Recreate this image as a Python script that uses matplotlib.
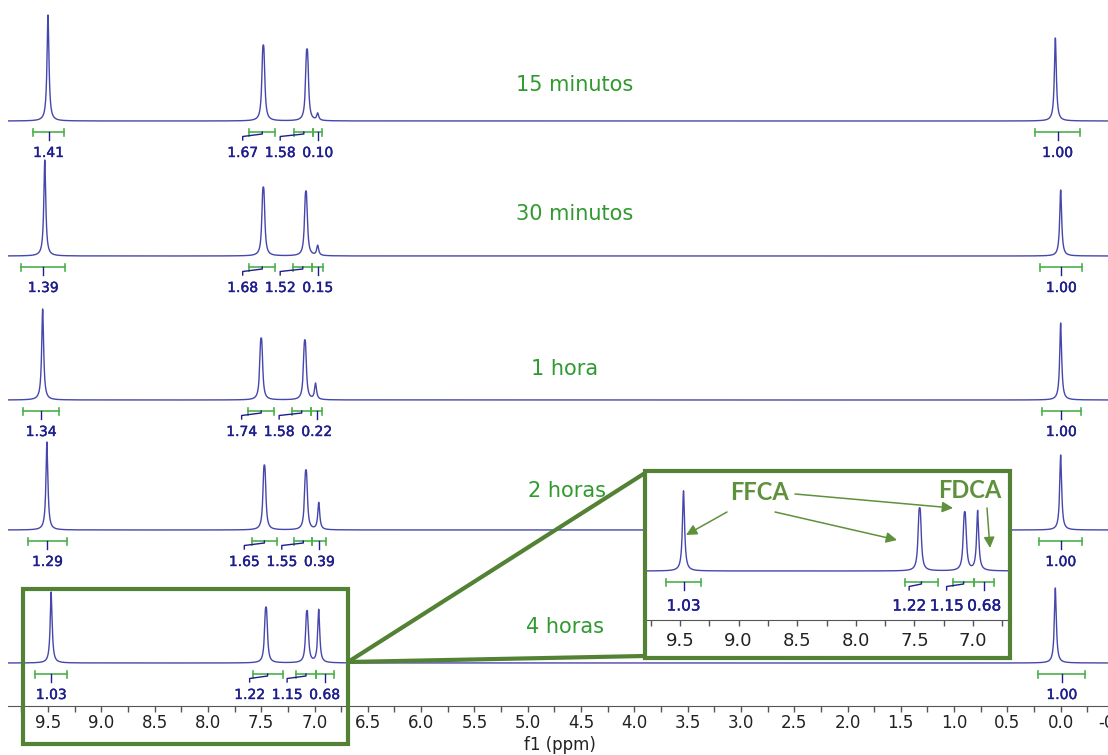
import numpy as np
import matplotlib
matplotlib.use("Agg")
import matplotlib.pyplot as plt
import matplotlib.patheffects as pe
from matplotlib.patches import Rectangle
from matplotlib.ticker import MultipleLocator, FormatStrFormatter

plt.rcParams["axes.unicode_minus"] = False

W, H = 1108, 755

TRACE_LABELS = ["15 minutos", "30 minutos", "1 hora", "2 horas", "4 horas"]

# shifts (ppm): CHO (FFCA), furan H x2 (FFCA), FDCA, TMS
PEAK_PPM = [
    [9.50, 7.48, 7.07, 6.97, 0.05],
    [9.53, 7.48, 7.08, 6.97, 0.00],
    [9.55, 7.50, 7.09, 6.99, 0.00],
    [9.51, 7.47, 7.08, 6.96, 0.00],
    [9.47, 7.455, 7.07, 6.96, 0.05],
]
PEAK_HEIGHT = [
    [106, 76, 72, 7, 83],
    [96, 69, 65, 10, 66],
    [91, 62, 60, 16, 77],
    [88, 65, 60, 27, 75],
    [71, 56, 52, 53, 75],
]
PEAK_DOUBLET = [False, True, True, False, False]

INT_RANGES = [
    [(9.64, 9.35), (7.61, 7.37), (7.19, 7.01), (7.01, 6.93), (0.24, -0.18)],
    [(9.75, 9.34), (7.61, 7.37), (7.20, 7.02), (7.02, 6.92), (0.19, -0.20)],
    [(9.73, 9.40), (7.62, 7.38), (7.21, 7.03), (7.03, 6.93), (0.18, -0.19)],
    [(9.69, 9.32), (7.59, 7.35), (7.19, 7.02), (7.02, 6.89), (0.20, -0.20)],
    [(9.62, 9.32), (7.58, 7.30), (7.17, 6.99), (6.99, 6.82), (0.21, -0.23)],
]
INT_VALUES = [
    ["1.41", "1.67", "1.58", "0.10", "1.00"],
    ["1.39", "1.68", "1.52", "0.15", "1.00"],
    ["1.34", "1.74", "1.58", "0.22", "1.00"],
    ["1.29", "1.65", "1.55", "0.39", "1.00"],
    ["1.03", "1.22", "1.15", "0.68", "1.00"],
]

# layout (pixels from top of the image)
BASE_PX = [121, 256, 400, 530, 663]
LABEL_PX = [(575, 85), (575, 214), (565, 369), (567, 491), (565, 627)]
AX_PX = 706
PPM_PX = 106.6          # main axis px per ppm, 9.5 ppm at x=48
IN_PPM_PX = 117.2       # inset px per ppm, 9.5 ppm at x=680
INSET_GAIN = 1.13

LINE_C = "#4646ac"
INT_C = "#4db04d"
LAB_C = "#1e1e8c"
TXT_G = "#2f9a2f"
BOX_G = "#548235"
ANN_G = "#5f913c"

J = 0.012
HW = 0.011
x = np.linspace(-0.8, 10.2, 44000)


def spectrum(ppms, heights):
    y = np.zeros_like(x)
    for p, h, dbl in zip(ppms, heights, PEAK_DOUBLET):
        comps = [p - J / 2, p + J / 2] if dbl else [p]
        prof = sum(1.0 / (1.0 + ((x - c) / HW) ** 2) for c in comps)
        y += h * prof / prof.max()
    return y


def draw_integrals(ax, y0, ranges, values, px_per_ppm, lab_off, fs):
    sp = 37.5 / px_per_ppm
    cen = [(a + b) / 2 for a, b in ranges]
    order = sorted(range(len(cen)), key=lambda k: cen[k])   # right to left
    lab = {}
    prev = None
    for k in order:
        lab[k] = cen[k] if prev is None else max(cen[k], prev + sp)
        prev = lab[k]
    cap = 3.5
    thick = [pe.withStroke(linewidth=0.3, foreground=LAB_C)]
    for (a, b), c, k, v in zip(ranges, cen, range(len(cen)), values):
        ax.plot([a, b], [y0 - 11, y0 - 11], color=INT_C, lw=1.2, clip_on=False)
        for e in (a, b):
            ax.plot([e, e], [y0 - 11 - cap, y0 - 11 + cap], color=INT_C, lw=1.2, clip_on=False)
        L = lab[k]
        ax.plot([c, c, L, L], [y0 - 11, y0 - 13, y0 - 15.5, y0 - 19],
                color=LAB_C, lw=1.0, clip_on=False)
        ax.text(L, y0 - lab_off, v, ha="center", va="center", fontsize=fs,
                color=LAB_C, clip_on=False, path_effects=thick)


fig = plt.figure(figsize=(W / 100, H / 100), dpi=100)

# ---- main stacked spectra
right_px = 1125
ax = fig.add_axes([8 / W, 1 - AX_PX / H, (right_px - 8) / W, AX_PX / H], zorder=1)
ax.set_xlim(9.5 + (48 - 8) / PPM_PX, 9.5 - (right_px - 48) / PPM_PX)
ax.set_ylim(0, AX_PX)
ax.patch.set_alpha(0)
for s in ("left", "right", "top"):
    ax.spines[s].set_visible(False)
ax.spines["bottom"].set_color("#555555")
ax.set_yticks([])
ax.xaxis.set_major_locator(MultipleLocator(0.5))
ax.xaxis.set_minor_locator(MultipleLocator(0.25))
ax.xaxis.set_major_formatter(FormatStrFormatter("%.1f"))
ax.tick_params(axis="x", which="both", direction="out", length=4, width=1,
               color="#555555", labelsize=12, labelcolor="#222222", pad=2)
ax.set_xlabel("f1 (ppm)", fontsize=12, color="#222222")
ax.xaxis.set_label_coords((560 - 8) / (right_px - 8), -39 / AX_PX)
ax.xaxis.label.set_va("center")

for i in range(len(TRACE_LABELS)):
    y0 = AX_PX - BASE_PX[i]
    ax.plot(x, y0 + spectrum(PEAK_PPM[i], PEAK_HEIGHT[i]), color=LINE_C, lw=1.0)
    draw_integrals(ax, y0, INT_RANGES[i], INT_VALUES[i], PPM_PX, 32, 10)
    tx, ty = LABEL_PX[i]
    ax.text(9.5 - (tx - 48) / PPM_PX, AX_PX - ty, TRACE_LABELS[i], ha="center",
            va="center", fontsize=15, color=TXT_G)

# ---- zoomed inset of the 4 h spectrum
ix0, ix1, iy0, iy1 = 643, 1011, 471, 657
axi = fig.add_axes([ix0 / W, 1 - iy1 / H, (ix1 - ix0) / W, (iy1 - iy0) / H], zorder=3)
axi.set_facecolor("white")
axi.set_xlim(9.5 + (680 - ix0) / IN_PPM_PX, 7.0 - (ix1 - 973) / IN_PPM_PX)
axi.set_ylim(0, iy1 - iy0)
for s in ("left", "right", "top"):
    axi.spines[s].set_visible(False)
axi.spines["bottom"].set_position(("data", iy1 - 620))
axi.spines["bottom"].set_color("#555555")
axi.set_yticks([])
axi.xaxis.set_major_locator(MultipleLocator(0.5))
axi.xaxis.set_minor_locator(MultipleLocator(0.25))
axi.xaxis.set_major_formatter(FormatStrFormatter("%.1f"))
axi.tick_params(axis="x", which="both", direction="out", length=4, width=1,
                color="#555555", labelsize=13, labelcolor="#222222", pad=5)

yb = iy1 - 571
axi.plot(x, yb + INSET_GAIN * spectrum(PEAK_PPM[4], PEAK_HEIGHT[4]), color=LINE_C, lw=1.0)
draw_integrals(axi, yb, INT_RANGES[4][:4], INT_VALUES[4][:4], IN_PPM_PX, 35, 11)


def ip(px, py):
    return 9.5 - (px - 680) / IN_PPM_PX, iy1 - py


lab_font = dict(fontsize=17, fontweight="bold", color=ANN_G, family=["Lato", "DejaVu Sans"],
                ha="center", va="center")
axi.text(*ip(760, 493), "FFCA", **lab_font)
axi.text(*ip(970, 490), "FDCA", **lab_font)
arrows = [((727, 512), (686, 535)), ((775, 512), (897, 540)),
          ((795, 494), (953, 508)), ((987, 508), (990, 548))]
for (sx, sy), (ex, ey) in arrows:
    axi.annotate("", xy=ip(ex, ey), xytext=ip(sx, sy),
                 arrowprops=dict(arrowstyle="-|>", color=ANN_G, lw=1.1,
                                 mutation_scale=16, shrinkA=0, shrinkB=0))

# ---- overlay: highlight box, inset frame, connector lines
ov = fig.add_axes([0, 0, 1, 1], zorder=5)
ov.set_xlim(0, W)
ov.set_ylim(H, 0)
ov.axis("off")
ov.patch.set_alpha(0)
ov.add_patch(Rectangle((23, 589), 325, 155, fill=False, ec=BOX_G, lw=3))
ov.add_patch(Rectangle((645, 471), 365, 187, fill=False, ec=BOX_G, lw=3))
ov.plot([348, 645], [662, 473], color=BOX_G, lw=3, solid_capstyle="butt")
ov.plot([348, 645], [662, 656], color=BOX_G, lw=3, solid_capstyle="butt")

fig.savefig("out.png", dpi=100, facecolor="white")
